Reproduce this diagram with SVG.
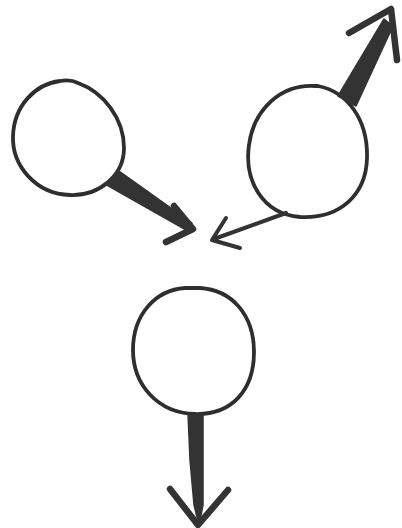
<svg xmlns="http://www.w3.org/2000/svg" width="402" height="528" viewBox="0 0 402 528">
<style>
.node{fill:none;stroke:#2e2e2e;stroke-width:3.8;stroke-linejoin:round;stroke-linecap:round}
.stem{fill:#333;stroke:#333;stroke-width:1.5;stroke-linejoin:round}
.head{fill:none;stroke:#333;stroke-width:6.5;stroke-linecap:round;stroke-linejoin:round}
.thin{fill:none;stroke:#333;stroke-width:4;stroke-linecap:round;stroke-linejoin:round}
</style>
<rect width="402" height="528" fill="#fff"/>
<g id="node-left">
<path class="node" d="M60 81 C35 84 14 106 13 136 C12 166 36 194 70 195 C100 196 124 175 124 148 C124 118 103 92 78 83 C72 80 66 80 60 81 Z"/>
</g>
<g id="node-right">
<path class="node" d="M315 86 C282 84 254 108 249 145 C244 180 262 214 300 217 C340 219 366 195 367 158 C368 120 348 92 318 86 Z"/>
</g>
<g id="node-bottom">
<path class="node" d="M185 288 C155 290 133 315 133 350 C133 385 158 413 195 414 C232 415 254 390 254 352 C254 315 232 290 200 288 Z"/>
</g>
<g id="connectors">
<path class="stem" d="M105 184 L119 171 L192 223 L188 231 Z"/>
<path class="head" d="M174 206 L193 229 L166 242"/>
<path class="stem" d="M338 96 L356 106 L393 26 L384 19 Z"/>
<path class="head" d="M349 33 L391 9 L397 60"/>
<path class="thin" d="M286 213 L214 239"/>
<path class="thin" d="M226 218 L212 240 L240 248"/>
<path class="stem" d="M188 414 L203 414 L203 505 L199 525 L194 505 L190 460 Z"/>
<path class="head" d="M170 489 L198 525 L228 490"/>
</g>
</svg>
